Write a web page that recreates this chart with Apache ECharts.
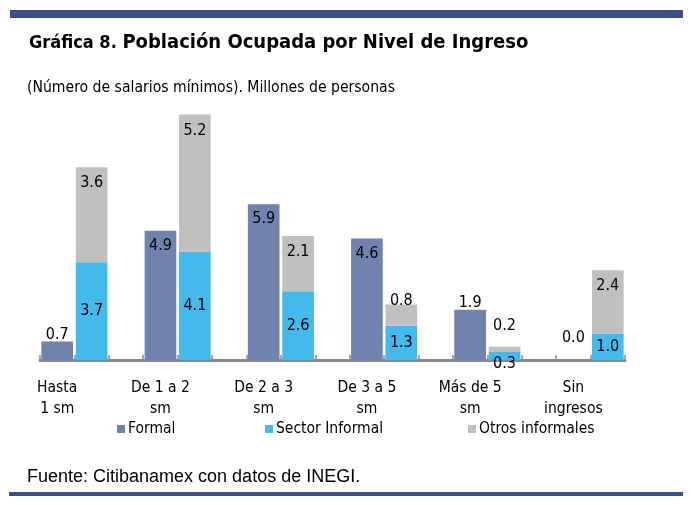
<!DOCTYPE html>
<html>
<head>
<meta charset="utf-8">
<script src="https://cdn.jsdelivr.net/npm/echarts@6/dist/echarts.min.js"></script>
<style>
html,body{margin:0;padding:0;background:#fff;}
#chart{width:698px;height:505px;}
</style>
</head>
<body>
<div id="chart"></div>
<script>
// ---- data ----
var categories = ['Hasta\n1 sm', 'De 1 a 2\nsm', 'De 2 a 3\nsm', 'De 3 a 5\nsm', 'Más de 5\nsm', 'Sin\ningresos'];
var formal = [0.7, 4.9, 5.9, 4.6, 1.9, 0.0];
var sectorInformal = [3.7, 4.1, 2.6, 1.3, 0.3, 1.0];
var otrosInformales = [3.6, 5.2, 2.1, 0.8, 0.2, 2.4];
var seriesNames = ['Formal', 'Sector Informal', 'Otros informales'];

// ---- styles ----
var NARROW = "'Liberation Sans Narrow', 'Arial Narrow', 'DejaVu Sans Condensed', sans-serif";
var REG = "'Liberation Sans', Arial, sans-serif";
var colors = ['#7083ae', '#44b9ec', '#c0c0c0'];
var frameColor = '#3c4f88';

// slot layout: each category takes three slots (formal, informal, gap), last gap dropped
var nSlots = categories.length * 3 - 1;
var slotKeys = [];
for (var i = 0; i < nSlots; i++) slotKeys.push('s' + i);

function slotData(values, offset) {
  var arr = [];
  for (var i = 0; i < nSlots; i++) arr.push('-');
  values.forEach(function (v, k) { arr[k * 3 + offset] = v; });
  return arr;
}

var labelBase = { show: true, color: '#000', fontFamily: NARROW, fontSize: 16, formatter: function (p) { return p.value.toFixed(1); } };

function formalItems() {
  return slotData(formal, 0).map(function (v) {
    if (v === '-') return v;
    var lab;
    if (v >= 3) lab = { position: 'insideTop', distance: 7 };
    else if (v >= 0.5) lab = { position: 'top', distance: -1 };
    else lab = { position: 'top', distance: 14 };
    return { value: v, label: lab };
  });
}
function informalItems() {
  return slotData(sectorInformal, 1).map(function (v) {
    if (v === '-') return v;
    var lab = v >= 0.5 ? { position: 'inside' } : { position: 'bottom', distance: -4 };
    return { value: v, label: lab };
  });
}
function otrosItems() {
  return slotData(otrosInformales, 1).map(function (v) {
    if (v === '-') return v;
    var lab;
    if (v >= 2) lab = { position: 'insideTop', distance: 8 };
    else if (v >= 0.5) lab = { position: 'top', distance: -4 };
    else lab = { position: 'top', distance: 13 };
    return { value: v, label: lab };
  });
}

var chart = echarts.init(document.getElementById('chart'), null, { renderer: 'canvas' });

function legendAt(name, left) {
  return {
    data: [name], left: left, top: 421, itemWidth: 8, itemHeight: 8, itemGap: 0,
    icon: 'rect', padding: 0,
    textStyle: { fontFamily: NARROW, fontSize: 15.5, color: '#000', padding: [0, 0, 0, -2] },
    selectedMode: false
  };
}

var option = {
  animation: false,
  backgroundColor: '#fff',
  color: colors,
  title: [{
    text: '{a|Gráfica 8. }{b|Población Ocupada por Nivel de Ingreso}',
    left: 24, top: 28,
    textStyle: {
      rich: {
        a: { fontFamily: NARROW, fontWeight: 'bold', fontSize: 18, color: '#000' },
        b: { fontFamily: NARROW, fontWeight: 'bold', fontSize: 20, color: '#000' }
      }
    }
  }, {
    text: '(Número de salarios mínimos). Millones de personas',
    left: 22, top: 75,
    textStyle: { fontFamily: NARROW, fontWeight: 'normal', fontSize: 15.6, color: '#000' }
  }, {
    text: 'Fuente: Citibanamex con datos de INEGI.',
    left: 22, top: 463,
    textStyle: { fontFamily: REG, fontWeight: 'normal', fontSize: 18, color: '#000' }
  }],
  legend: [legendAt(seriesNames[0], 117), legendAt(seriesNames[1], 265), legendAt(seriesNames[2], 468)],
  grid: { left: 40, right: 73, top: 96, bottom: 145, containLabel: false },
  xAxis: {
    type: 'category',
    data: slotKeys,
    axisLine: { show: true, lineStyle: { color: '#8a8a8a', width: 3 } },
    axisTick: { show: true, inside: true, length: 5, interval: 0, lineStyle: { color: '#8a8a8a', width: 1.5 } },
    axisLabel: {
      interval: 0, margin: 17, fontFamily: NARROW, fontSize: 15.5, color: '#000', lineHeight: 21,
      formatter: function (val, idx) { return idx % 3 === 0 ? categories[idx / 3] : ''; }
    },
    splitLine: { show: false }
  },
  yAxis: { type: 'value', min: 0, max: 10, show: false, splitLine: { show: false } },
  series: [
    { name: seriesNames[0], type: 'bar', stack: 'all', barCategoryGap: '8%', data: formalItems(), label: labelBase, z: 3 },
    { name: seriesNames[1], type: 'bar', stack: 'all', barCategoryGap: '8%', data: informalItems(), label: labelBase, z: 3 },
    { name: seriesNames[2], type: 'bar', stack: 'all', barCategoryGap: '8%', data: otrosItems(), label: labelBase, z: 3 }
  ],
  graphic: [
    { type: 'rect', shape: { x: 10, y: 10, width: 673, height: 8 }, style: { fill: frameColor } },
    { type: 'rect', shape: { x: 9, y: 492, width: 674, height: 4 }, style: { fill: frameColor } }
  ]
};
chart.setOption(option);
</script>
</body>
</html>
